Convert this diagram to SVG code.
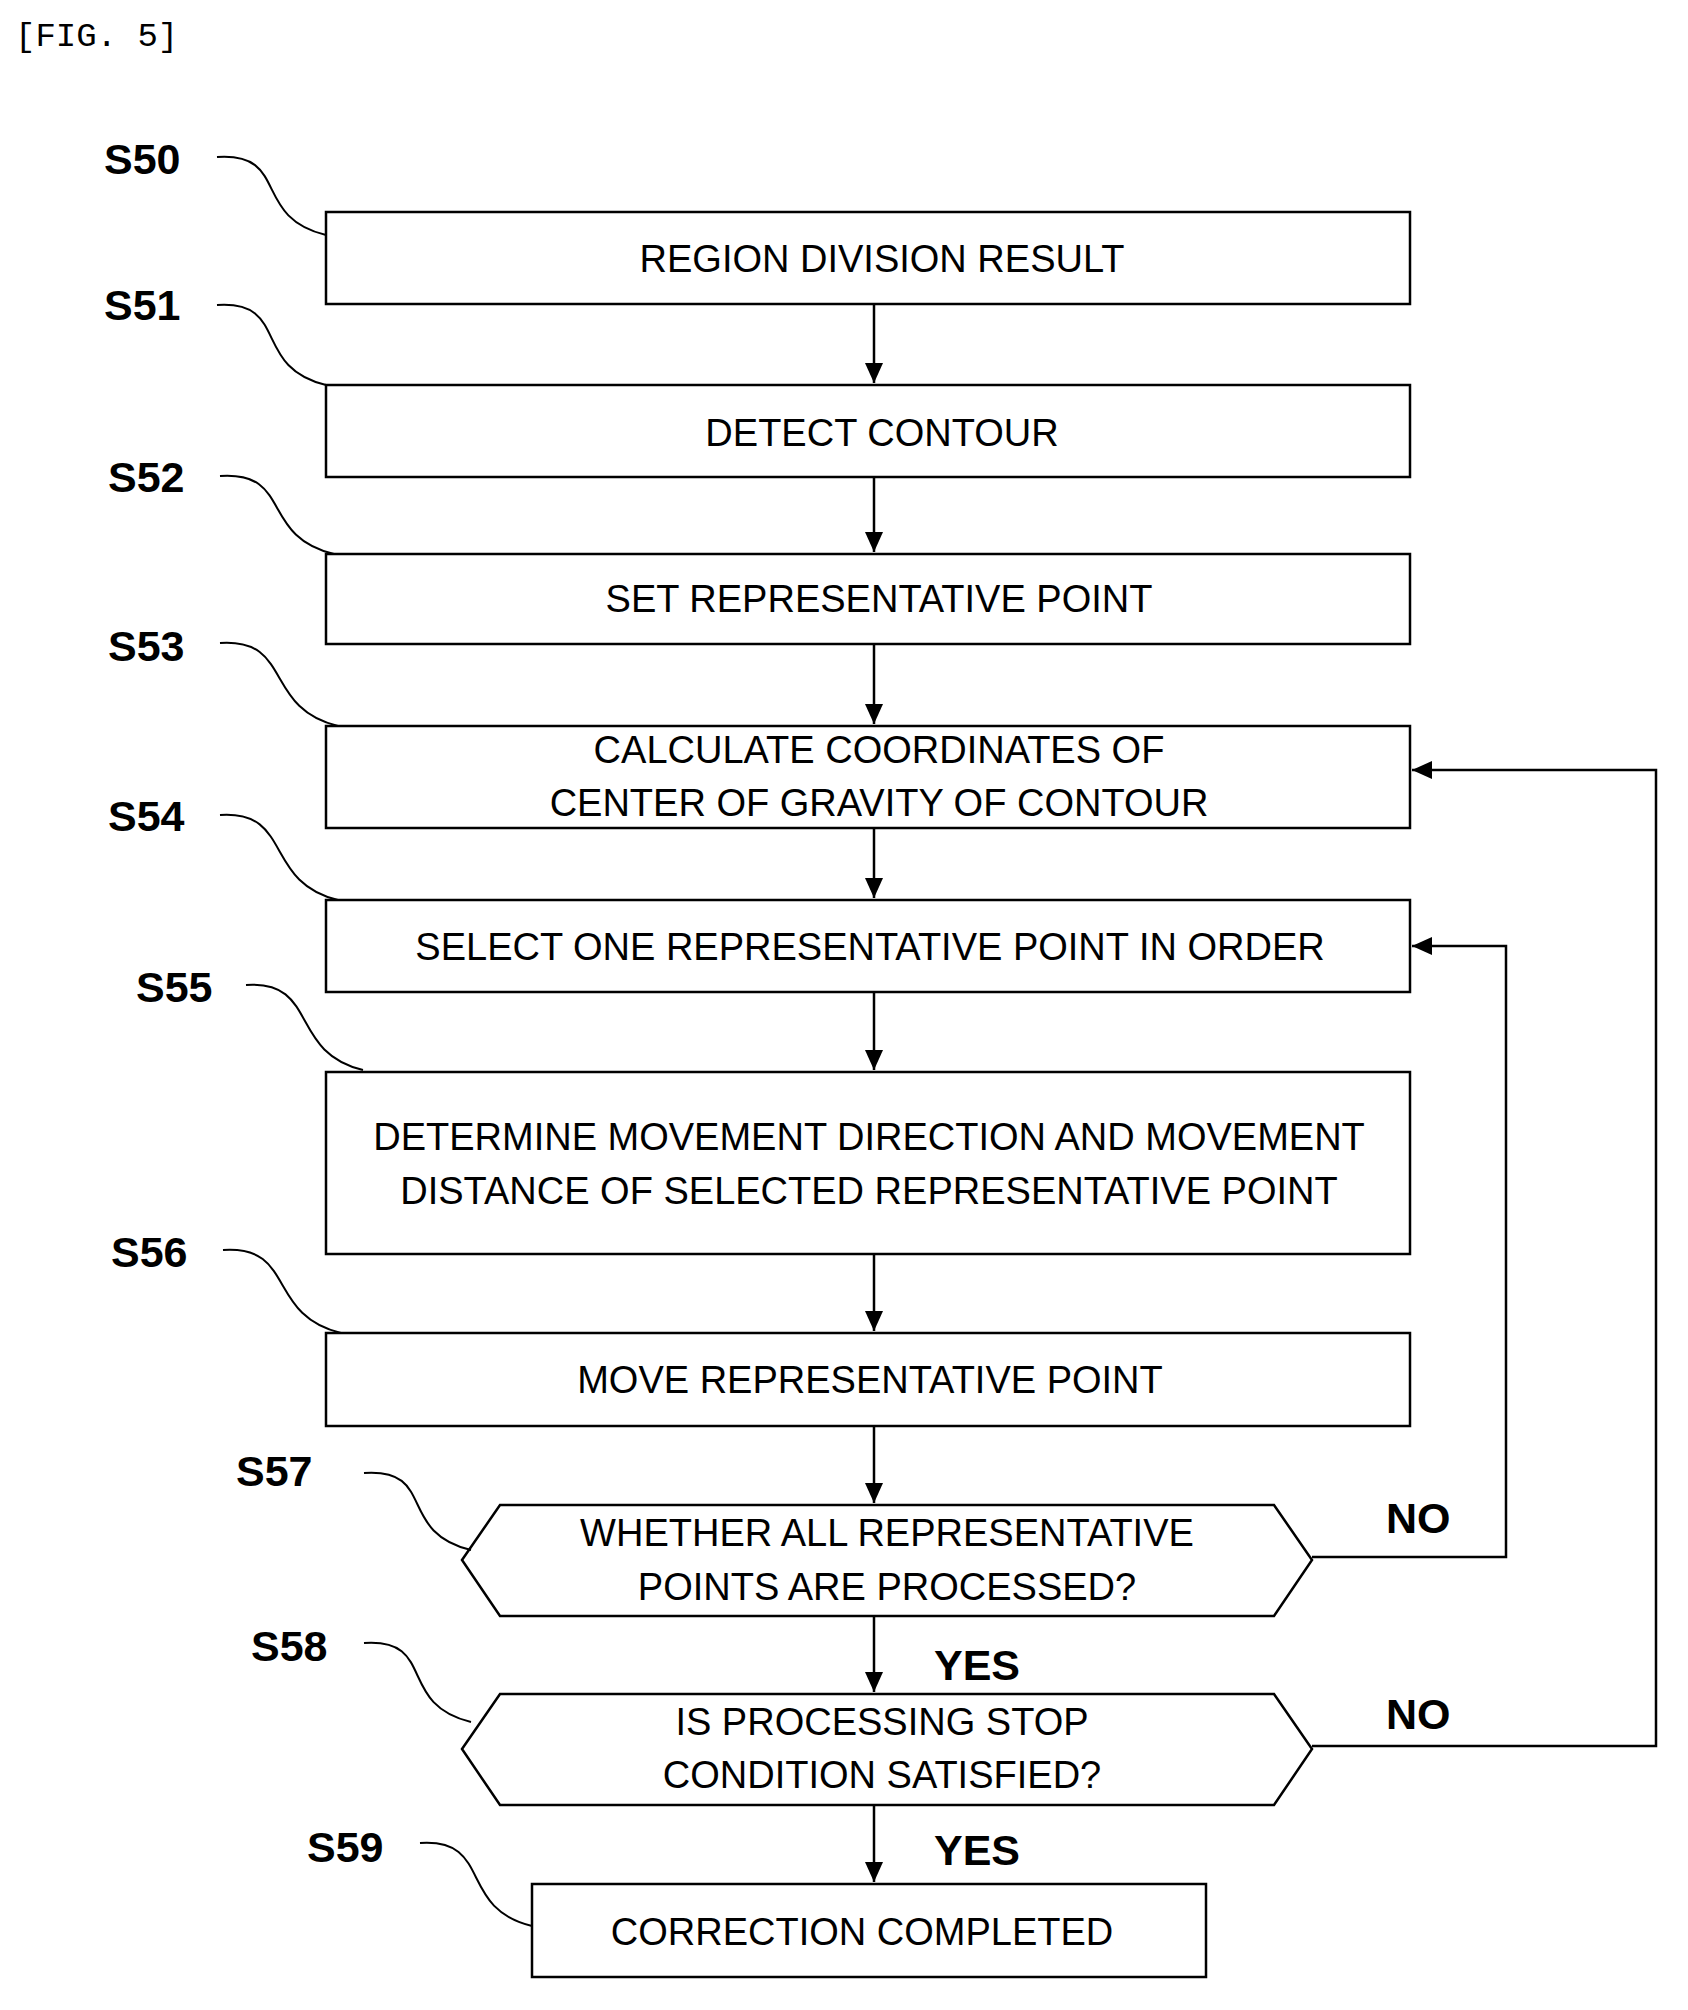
<svg xmlns="http://www.w3.org/2000/svg" width="1688" height="2010" viewBox="0 0 1688 2010">
<style>
.b{fill:#fff;stroke:#000;stroke-width:2.5}
.t{font-family:"Liberation Sans",Arial,sans-serif;font-size:38px;text-anchor:middle;dominant-baseline:central}
.l{font-family:"Liberation Sans",Arial,sans-serif;font-size:43px;font-weight:bold}
.c{fill:none;stroke:#000;stroke-width:2.5}
.k{fill:none;stroke:#000;stroke-width:2}
</style>
<defs><marker id="h" markerWidth="22" markerHeight="18" refX="20" refY="9" orient="auto" markerUnits="userSpaceOnUse"><path d="M0,0 L20,9 L0,18 Z" fill="#000"/></marker></defs>
<rect width="1688" height="2010" fill="#fff"/>
<text x="15" y="46" font-family="Liberation Mono,monospace" font-size="34">[FIG. 5]</text>
<g id="S50"><rect class="b" x="326" y="212" width="1084" height="92"/><text class="t" x="882" y="259">REGION DIVISION RESULT</text><text class="l" x="104" y="174">S50</text></g>
<g id="S51"><rect class="b" x="326" y="385" width="1084" height="92"/><text class="t" x="882" y="433">DETECT CONTOUR</text><text class="l" x="104" y="320">S51</text></g>
<g id="S52"><rect class="b" x="326" y="554" width="1084" height="90"/><text class="t" x="879" y="599">SET REPRESENTATIVE POINT</text><text class="l" x="108" y="492">S52</text></g>
<g id="S53"><rect class="b" x="326" y="726" width="1084" height="102"/><text class="t" x="879" y="750">CALCULATE COORDINATES OF</text><text class="t" x="879" y="803">CENTER OF GRAVITY OF CONTOUR</text><text class="l" x="108" y="661">S53</text></g>
<g id="S54"><rect class="b" x="326" y="900" width="1084" height="92"/><text class="t" x="870" y="947">SELECT ONE REPRESENTATIVE POINT IN ORDER</text><text class="l" x="108" y="831">S54</text></g>
<g id="S55"><rect class="b" x="326" y="1072" width="1084" height="182"/><text class="t" x="869" y="1137">DETERMINE MOVEMENT DIRECTION AND MOVEMENT</text><text class="t" x="869" y="1191">DISTANCE OF SELECTED REPRESENTATIVE POINT</text><text class="l" x="136" y="1002">S55</text></g>
<g id="S56"><rect class="b" x="326" y="1333" width="1084" height="93"/><text class="t" x="870" y="1380">MOVE REPRESENTATIVE POINT</text><text class="l" x="111" y="1267">S56</text></g>
<g id="S57"><polygon class="b" points="462,1560 500,1505 1274,1505 1312,1560 1274,1616 500,1616"/><text class="t" x="887" y="1533">WHETHER ALL REPRESENTATIVE</text><text class="t" x="887" y="1587">POINTS ARE PROCESSED?</text><text class="l" x="236" y="1486">S57</text></g>
<g id="S58"><polygon class="b" points="462,1749 500,1694 1274,1694 1312,1749 1274,1805 500,1805"/><text class="t" x="882" y="1722">IS PROCESSING STOP</text><text class="t" x="882" y="1775">CONDITION SATISFIED?</text><text class="l" x="251" y="1661">S58</text></g>
<g id="S59"><rect class="b" x="532" y="1884" width="674" height="93"/><text class="t" x="862" y="1932">CORRECTION COMPLETED</text><text class="l" x="307" y="1862">S59</text></g>
<g id="leaders">
<path class="k" d="M217,157 C290,152 251,217 326,235"/>
<path class="k" d="M217,305 C290,300 251,367 326,385"/>
<path class="k" d="M220,476 C293,471 259,536 334,554"/>
<path class="k" d="M220,643 C293,638 263,708 338,726"/>
<path class="k" d="M220,815 C293,810 263,882 338,900"/>
<path class="k" d="M246,985 C319,980 288,1052 363,1070"/>
<path class="k" d="M223,1250 C296,1245 266,1315 341,1333"/>
<path class="k" d="M364,1473 C437,1468 396,1532 471,1550"/>
<path class="k" d="M364,1643 C437,1638 396,1704 471,1722"/>
<path class="k" d="M420,1843 C493,1838 457,1908 532,1926"/>
</g>
<g id="connectors">
<line class="c" x1="874" y1="304" x2="874" y2="383" marker-end="url(#h)"/>
<line class="c" x1="874" y1="477" x2="874" y2="552" marker-end="url(#h)"/>
<line class="c" x1="874" y1="644" x2="874" y2="724" marker-end="url(#h)"/>
<line class="c" x1="874" y1="828" x2="874" y2="898" marker-end="url(#h)"/>
<line class="c" x1="874" y1="992" x2="874" y2="1070" marker-end="url(#h)"/>
<line class="c" x1="874" y1="1254" x2="874" y2="1331" marker-end="url(#h)"/>
<line class="c" x1="874" y1="1426" x2="874" y2="1503" marker-end="url(#h)"/>
<line class="c" x1="874" y1="1616" x2="874" y2="1692" marker-end="url(#h)"/>
<line class="c" x1="874" y1="1805" x2="874" y2="1882" marker-end="url(#h)"/>
<polyline class="c" points="1312,1557 1506,1557 1506,946 1412,946" marker-end="url(#h)"/>
<polyline class="c" points="1312,1746 1656,1746 1656,770 1412,770" marker-end="url(#h)"/>
<text class="l" x="1386" y="1533">NO</text>
<text class="l" x="1386" y="1729">NO</text>
<text class="l" x="934" y="1680">YES</text>
<text class="l" x="934" y="1865">YES</text>
</g>
</svg>
